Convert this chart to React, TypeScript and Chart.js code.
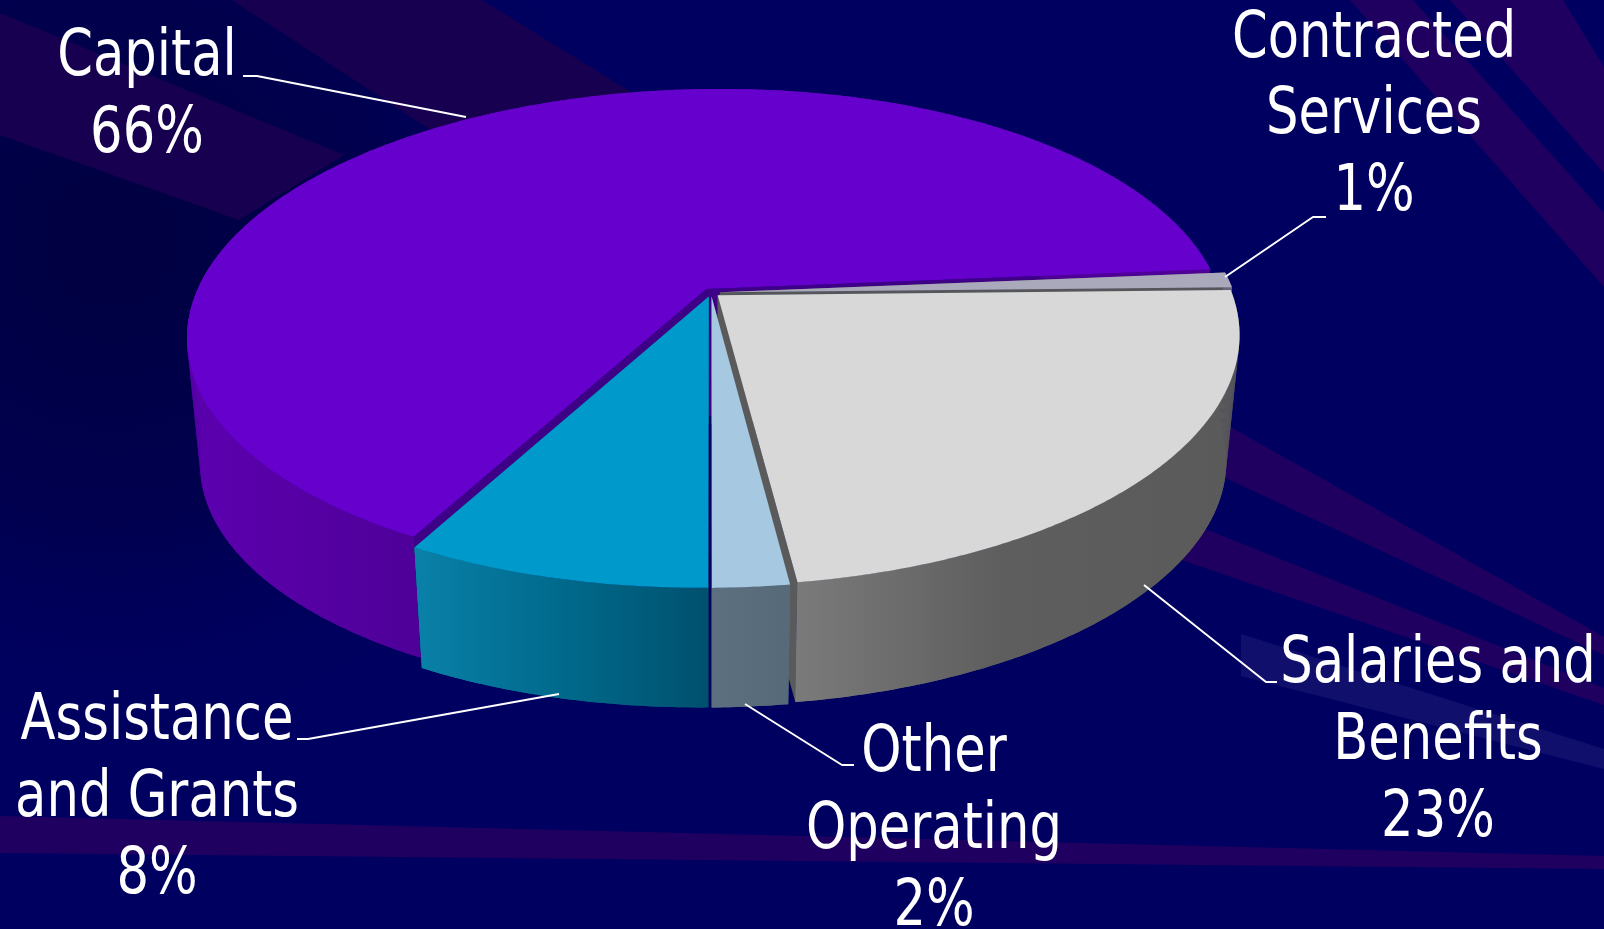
import React, { useEffect, useRef } from "react";
import { Chart, registerables } from "chart.js";

Chart.register(...registerables);

// Expense shares, listed clockwise around the pie.
const categories = ["Capital", "Contracted Services", "Salaries and Benefits", "Other Operating", "Assistance and Grants"];
const shares = [66, 1, 23, 2, 8];

const topColors = ["#6600cc", "#a9a9bb", "#d8d8d8", "#a6c8e0", "#0099cc"];
const cutColors = ["#3f0088", "#55555c", "#5a5a5a", "#5a6e7e", "#005a78"];
const rimStops: [number, string][][] = [
  [[187, "#5d00b0"], [420, "#4e0098"]],
  [[1100, "#77778a"], [1240, "#666678"]],
  [[785, "#7c7c7c"], [1000, "#5e5e5e"], [1240, "#5a5a5a"]],
  [[710, "#5c7080"], [785, "#566a7a"]],
  [[417, "#0a80a8"], [560, "#006a8c"], [710, "#00506e"]],
];

const WIDTH = 1604;
const HEIGHT = 929;

// Tilted-disc projection of the unit circle onto the page, with a thick extrusion.
const DISC = { cx: 711, cy: 292.5, a: 512, b: 237.2, k: 0.18, shear: -0.01 };
const BASE = { scale: 0.975, vanishY: 5372 };

function project(u: number, v: number, lower: boolean) {
  const w = 1 - DISC.k * v;
  const x = DISC.cx + (DISC.a * u) / w;
  const y = DISC.cy + (DISC.b * v) / w + DISC.shear * DISC.a * u;
  if (!lower) return { x, y };
  return {
    x: DISC.cx + (x - DISC.cx) * BASE.scale,
    y: BASE.vanishY + (y - BASE.vanishY) * BASE.scale,
  };
}

const LABEL_FONT = '64px "DejaVu Sans"';
const LABEL_STRETCH = 0.8;
const labelBlocks = [
  { x: 147, lines: [["Capital", 75], ["66%", 152]] },
  { x: 1374, lines: [["Contracted", 57], ["Services", 133], ["1%", 210]] },
  { x: 1438, lines: [["Salaries and", 682], ["Benefits", 759], ["23%", 836]] },
  { x: 934, lines: [["Other", 771], ["Operating", 848], ["2%", 925]] },
  { x: 157, lines: [["Assistance", 739], ["and Grants", 816], ["8%", 893]] },
];
const leaders = [
  [[243, 76], [257, 76], [466, 117]],
  [[1326, 217], [1313, 217], [1225, 277]],
  [[1277, 682], [1266, 682], [1144, 585]],
  [[854, 765], [842, 765], [745, 704]],
  [[297, 739], [308, 739], [559, 694]],
];

const purpleBand = "#1f0060";
const dimBand = "#17004f";
const paleBand = "#10106c";
const rays: [string, number[][]][] = [
  [dimBand, [[232, 0], [482, 0], [660, 110], [446, 140]]],
  [dimBand, [[0, 13], [344, 155], [239, 220], [0, 135]]],
  [purpleBand, [[1350, 0], [1413, 0], [1604, 213], [1604, 287]]],
  [purpleBand, [[1450, 0], [1563, 0], [1604, 67], [1604, 173]]],
  [purpleBand, [[1200, 410], [1604, 637], [1604, 655], [1200, 466]]],
  [purpleBand, [[1170, 515], [1604, 688], [1604, 705], [1170, 556]]],
  [purpleBand, [[0, 816], [1604, 856], [1604, 869], [0, 853]]],
  [paleBand, [[1241, 634], [1604, 749], [1604, 769], [1241, 676]]],
];

const scenery = {
  id: "scenery",
  beforeDraw(chart: any) {
    const { ctx } = chart;
    ctx.save();
    ctx.fillStyle = "#000060";
    ctx.fillRect(0, 0, WIDTH, HEIGHT);
    const shade = ctx.createRadialGradient(110, 240, 40, 110, 240, 520);
    shade.addColorStop(0, "rgba(0,0,66,1)");
    shade.addColorStop(0.5, "rgba(0,0,76,0.85)");
    shade.addColorStop(1, "rgba(0,0,96,0)");
    ctx.fillStyle = shade;
    ctx.fillRect(0, 0, WIDTH, HEIGHT);
    for (const [color, pts] of rays) {
      ctx.fillStyle = color;
      ctx.beginPath();
      pts.forEach(([x, y], i) => (i ? ctx.lineTo(x, y) : ctx.moveTo(x, y)));
      ctx.closePath();
      ctx.fill();
    }
    ctx.restore();
  },
};

function trace(ctx: CanvasRenderingContext2D, pts: { x: number; y: number }[]) {
  ctx.beginPath();
  pts.forEach((p, i) => (i ? ctx.lineTo(p.x, p.y) : ctx.moveTo(p.x, p.y)));
  ctx.closePath();
}

// Replaces the flat arcs with extruded slices placed through the disc projection.
const extrudedPie = {
  id: "extrudedPie",
  beforeDatasetDraw() {
    return false;
  },
  afterDatasetsDraw(chart: any) {
    const { ctx } = chart;
    const arcs = chart.getDatasetMeta(0).data;
    ctx.save();
    arcs.forEach((arc: any, i: number) => {
      const { startAngle, endAngle, outerRadius } = arc.getProps(["startAngle", "endAngle", "outerRadius"], true);
      const shift = arc.options.offset / outerRadius;
      const mid = (startAngle + endAngle) / 2;
      const ox = Math.cos(mid) * shift;
      const oy = Math.sin(mid) * shift;
      const steps = Math.max(4, Math.ceil((endAngle - startAngle) / 0.01));
      const upper: { x: number; y: number }[] = [];
      const lower: { x: number; y: number }[] = [];
      for (let s = 0; s <= steps; s++) {
        const t = startAngle + ((endAngle - startAngle) * s) / steps;
        const u = Math.cos(t) + ox;
        const v = Math.sin(t) + oy;
        upper.push(project(u, v, false));
        lower.push(project(u, v, true));
      }
      const apexTop = project(ox, oy, false);
      const apexLow = project(ox, oy, true);

      // Cut faces on both radial edges
      ctx.fillStyle = cutColors[i];
      trace(ctx, [apexTop, upper[0], lower[0], apexLow]);
      ctx.fill();
      trace(ctx, [apexTop, upper[steps], lower[steps], apexLow]);
      ctx.fill();

      // Outer rim, shaded left to right; swept strip by strip so the silhouette stays tangent
      const stops = rimStops[i];
      const x0 = stops[0][0];
      const x1 = stops[stops.length - 1][0];
      const rim = ctx.createLinearGradient(x0, 0, x1, 0);
      stops.forEach(([x, c]) => rim.addColorStop((x - x0) / (x1 - x0), c));
      ctx.fillStyle = rim;
      for (let s = 0; s < steps; s++) {
        trace(ctx, [upper[s], upper[s + 1], lower[s + 1], lower[s]]);
        ctx.fill();
      }
      trace(ctx, [...upper, ...lower.slice().reverse()]);
      ctx.fill();

      // Top face
      ctx.fillStyle = arc.options.backgroundColor;
      trace(ctx, [apexTop, ...upper]);
      ctx.fill();
    });
    ctx.restore();

    ctx.save();
    ctx.strokeStyle = "#ffffff";
    ctx.lineWidth = 2;
    ctx.lineJoin = "round";
    for (const line of leaders) {
      ctx.beginPath();
      line.forEach(([x, y], i) => (i ? ctx.lineTo(x, y) : ctx.moveTo(x, y)));
      ctx.stroke();
    }
    ctx.fillStyle = "#ffffff";
    ctx.font = LABEL_FONT;
    ctx.textAlign = "center";
    ctx.textBaseline = "alphabetic";
    for (const block of labelBlocks) {
      for (const [text, y] of block.lines) {
        ctx.save();
        ctx.translate(block.x, y as number);
        ctx.scale(LABEL_STRETCH, 1);
        ctx.fillText(text as string, 0, 0);
        ctx.restore();
      }
    }
    ctx.restore();
  },
};

export default function App() {
  const canvasRef = useRef<HTMLCanvasElement>(null);

  useEffect(() => {
    document.body.style.margin = "0";
    document.body.style.overflow = "hidden";
    const chart = new Chart(canvasRef.current!, {
      type: "pie",
      data: {
        labels: categories,
        datasets: [{ data: shares, backgroundColor: topColors, borderWidth: 0, offset: 8 }],
      },
      options: {
        responsive: false,
        animation: false,
        rotation: 208.8,
        events: [],
        plugins: { legend: { display: false }, tooltip: { enabled: false } },
      },
      plugins: [scenery, extrudedPie],
    } as any);
    return () => chart.destroy();
  }, []);

  return <canvas ref={canvasRef} width={WIDTH} height={HEIGHT} style={{ display: "block" }} />;
}
